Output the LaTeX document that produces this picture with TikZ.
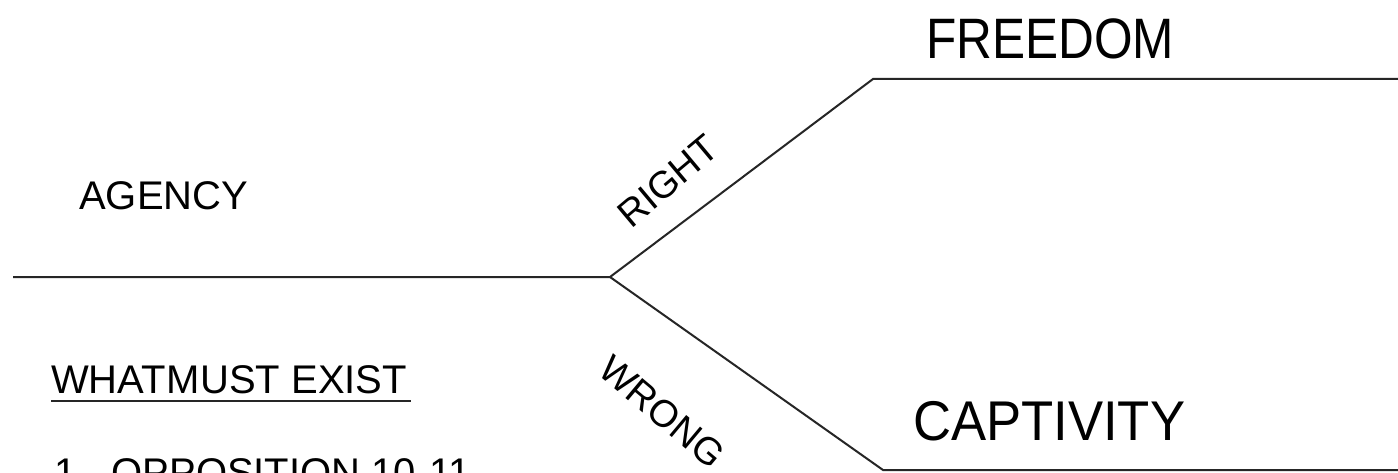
\documentclass[tikz,border=0pt]{standalone}
\usepackage{fontspec}
\setmainfont{Liberation Sans}
\newfontfamily\freedomfont[FakeStretch=0.87]{Liberation Sans}
\newfontfamily\captivefont[FakeStretch=0.94]{Liberation Sans}
\begin{document}
\begin{tikzpicture}[x=1pt,y=1pt,
  branch/.style={line width=2pt, draw=black!85, line join=miter},
  lbl/.style={font=\fontsize{40}{42}\selectfont, inner sep=0pt},
  slant/.style={font=\fontsize{38}{40}\selectfont, inner sep=0pt},
  outcome/.style={inner sep=0pt, anchor=base west}]
\clip (0,0) rectangle (1398,472);
\fill[white] (0,0) rectangle (1398,472);

% the path of choice and its two branches
\coordinate (start) at (13,195);
\coordinate (fork) at (610,195);
\coordinate (upbend) at (873,393);
\coordinate (upend) at (1398,393);
\coordinate (lowbend) at (883,2);
\coordinate (lowend) at (1398,2);
\draw[branch] (start) -- (fork) -- (upbend) -- (upend);
\draw[branch] (fork) -- (lowbend) -- (lowend);

% labels on the main path
\node[lbl, anchor=base west] (agency) at (79,262) {AGENCY};
\node[lbl, anchor=base west] (exist) at (51,79) {WHAT\kern1pt MUST EXIST};
\draw[line width=1.8pt, black!85] ([yshift=-8pt]exist.base west) -- ([yshift=-8pt,xshift=4pt]exist.base east);
\node[lbl, anchor=base west] (item) at (54,-14) {1.\hspace{24pt}OPPOSITION 10-11};

% labels on the branches
\node[slant, rotate=40] (right) at (668,291) {RIGHT};
\node[slant, rotate=-40] (wrong) at (662,60) {WRONG};

% where each branch leads
\node[outcome, font=\freedomfont\fontsize{57}{60}\selectfont] (freedom) at (926,413) {FREEDOM};
\node[outcome, font=\captivefont\fontsize{56}{60}\selectfont] (captivity) at (913,32) {CAPTIVITY};
\end{tikzpicture}
\end{document}
